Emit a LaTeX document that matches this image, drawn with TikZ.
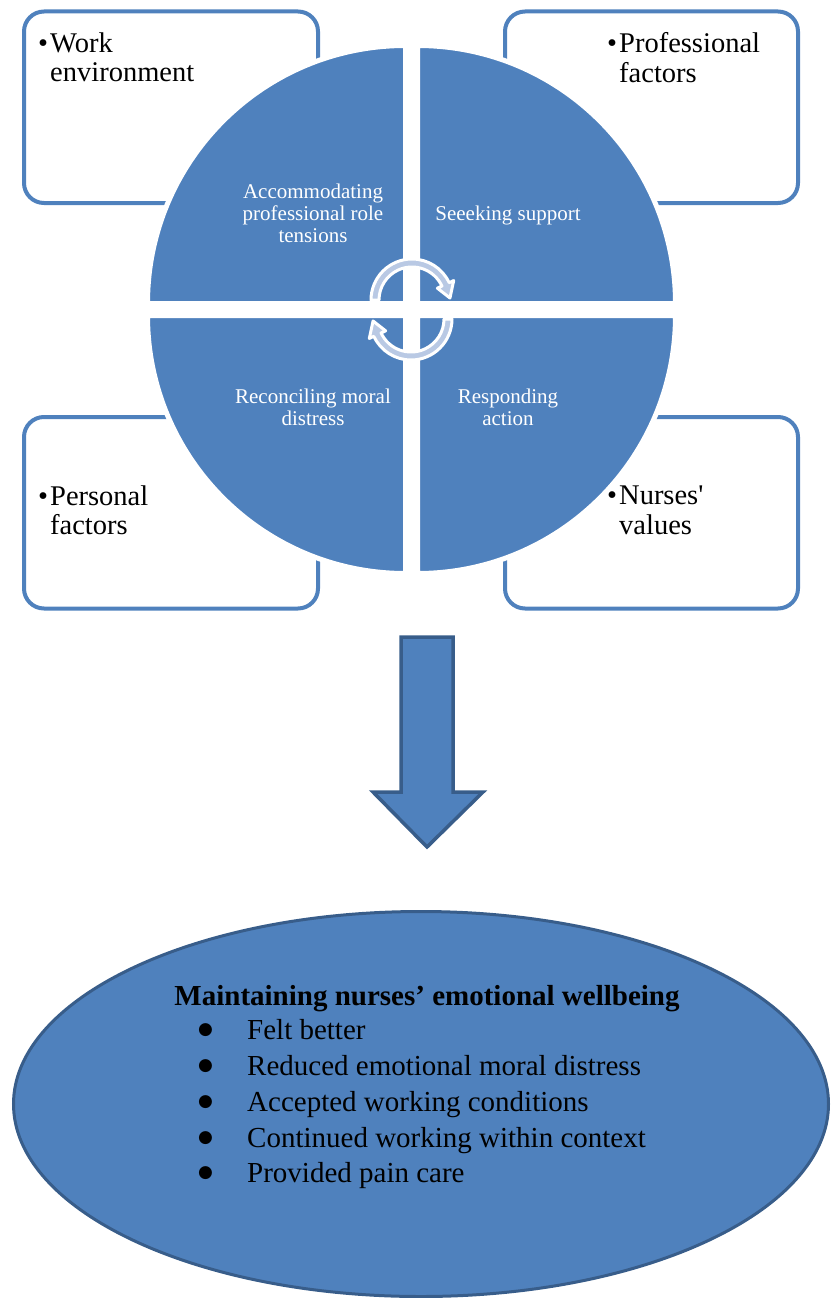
\documentclass[tikz,border=0pt]{standalone}
\usepackage{fontspec}
\setmainfont{Liberation Serif}
\newfontfamily\dotfont{DejaVu Sans}
\usepackage{tikz}
\usetikzlibrary{shapes.geometric,positioning}
\definecolor{segblue}{RGB}{79,129,189}
\definecolor{edgeblue}{RGB}{56,93,138}
\definecolor{cycleblue}{RGB}{185,201,228}
\tikzset{
	factorbox/.style={draw=segblue, line width=4pt, rounded corners=20pt, minimum width=294pt, minimum height=191.5pt, inner sep=0pt},
	factortext/.style={align=left, inner sep=0pt, node distance=0pt, font=\fontsize{28.5}{29.5}\selectfont},
	quarter/.style={fill=segblue, draw=white, line width=5pt},
	segtext/.style={text=white, align=center, inner sep=0pt, font=\fontsize{21}{22}\selectfont},
	cyclearrow/.style={fill=cycleblue, draw=white, line width=3pt, line join=round},
	downarrow/.style={fill=segblue, draw=edgeblue, line width=3.5pt},
	outcomeshape/.style={ellipse, fill=segblue, draw=edgeblue, line width=3pt, minimum width=815pt, minimum height=385pt, inner sep=0pt},
	outcometext/.style={inner sep=0pt, align=left, font=\fontsize{29}{35.75}\selectfont}
}
\newcommand{\fbul}{\makebox[12pt][l]{\textbullet}}
\newcommand{\obul}{\makebox[49pt][l]{\raisebox{5pt}{\dotfont\fontsize{17}{17}\selectfont ●}}}

\begin{document}
\begin{tikzpicture}[x=1pt, y=1pt]
	\useasboundingbox (0,0) rectangle (830,-1298);
	\node[factorbox] (boxWork) at (171,-107.25) {};
	\node[factorbox, minimum width=293pt] (boxProf) at (651.5,-107.25) {};
	\node[factorbox] (boxPers) at (171,-512.75) {};
	\node[factorbox, minimum width=293pt] (boxValues) at (651.5,-512.75) {};
	\node[factortext, below right=23pt and 16pt of boxWork.north west] (txtWork) {\fbul Work\\\hspace*{12pt}environment};
	\node[factortext, below right=23pt and 104pt of boxProf.north west] (txtProf) {\fbul Professional\\\hspace*{12pt}factors};
	\node[factortext, below right=70.5pt and 16pt of boxPers.north west] (txtPers) {\fbul Personal\\\hspace*{12pt}factors};
	\node[factortext, below right=71pt and 104pt of boxValues.north west] (txtValues) {\fbul Nurses\textquotesingle\\\hspace*{12pt}values};

	\draw[quarter] (405.5,-303.5) -- ++(-258,0) arc[start angle=180, end angle=90, radius=258] -- cycle;
	\draw[quarter] (417.5,-303.5) -- ++(258,0) arc[start angle=0, end angle=90, radius=258] -- cycle;
	\draw[quarter] (405.5,-315.5) -- ++(-258,0) arc[start angle=180, end angle=270, radius=258] -- cycle;
	\draw[quarter] (417.5,-315.5) -- ++(258,0) arc[start angle=0, end angle=-90, radius=258] -- cycle;
	\node[segtext] (segRole) at (313,-213) {Accommodating\\professional role\\tensions};
	\node[segtext] (segSupport) at (508,-215) {Seeeking support};
	\node[segtext] (segMoral) at (313,-407.5) {Reconciling moral\\distress};
	\node[segtext] (segAction) at (508,-407.5) {Responding\\action};

	\coordinate (cycTop) at (412,-300);
	\coordinate (cycBot) at (411,-319);
	\draw[cyclearrow] ([shift={(180:41)}]cycTop) arc[start angle=180, end angle=25, radius=41]
		-- ([shift={(25:46)}]cycTop) -- ([shift={(3:38)}]cycTop) -- ([shift={(25:28)}]cycTop)
		-- ([shift={(25:33)}]cycTop) arc[start angle=25, end angle=180, radius=33] -- cycle;
	\draw[cyclearrow] ([shift={(0:41)}]cycBot) arc[start angle=0, end angle=-155, radius=41]
		-- ([shift={(-155:46)}]cycBot) -- ([shift={(-177:38)}]cycBot) -- ([shift={(-155:28)}]cycBot)
		-- ([shift={(-155:33)}]cycBot) arc[start angle=-155, end angle=0, radius=33] -- cycle;

	\draw[downarrow] (401,-637) -- (453,-637) -- (453,-792) -- (483,-792) -- (427,-847) -- (373,-792) -- (401,-792) -- cycle;

	\node[outcomeshape] (outcome) at (421,-1104) {};
	\node[outcometext, anchor=base, font=\fontsize{29}{35.75}\selectfont\bfseries] (outcomeTitle) at (427,-1005) {Maintaining nurses’ emotional wellbeing};
	\node[outcometext, anchor=north west] (outcomeList) at (198,-1019.5) {\obul Felt better\\\obul Reduced emotional moral distress\\\obul Accepted working conditions\\\obul Continued working within context\\\obul Provided pain care};
\end{tikzpicture}
\end{document}
